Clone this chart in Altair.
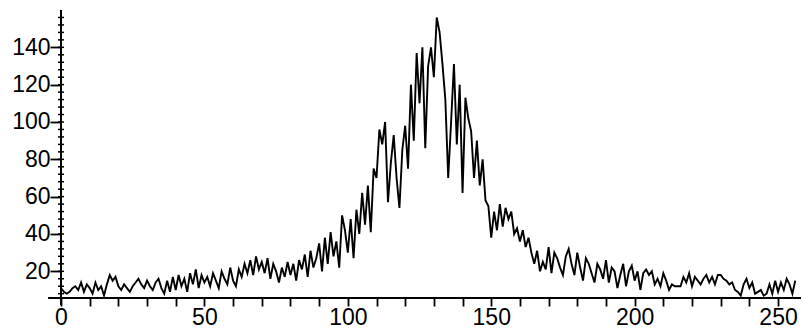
import altair as alt
import pandas as pd

# counts per channel (channel 0 .. 256)
counts = [
    11, 9, 8, 9, 11, 12, 10, 14, 9, 13,
    11, 8, 14, 10, 12, 7, 13, 18, 15, 17,
    12, 10, 13, 11, 9, 12, 14, 16, 13, 11,
    15, 12, 10, 14, 16, 11, 8, 15, 9, 17,
    10, 18, 12, 16, 9, 19, 13, 21, 11, 18,
    14, 17, 12, 19, 15, 11, 20, 16, 13, 22,
    15, 12, 21, 17, 24, 19, 26, 18, 28, 21,
    25, 19, 27, 16, 24, 20, 14, 22, 17, 25,
    18, 24, 15, 26, 21, 29, 17, 31, 22, 27,
    35, 20, 38, 24, 41, 28, 36, 22, 50, 42,
    30, 48, 27, 53, 40, 62, 45, 66, 41, 75,
    70, 96, 88, 100, 57, 78, 93, 70, 54, 85,
    98, 75, 120, 90, 137, 110, 140, 86, 130, 140,
    124, 156, 148, 131, 112, 70, 100, 131, 88, 120,
    62, 113, 102, 95, 70, 90, 66, 80, 58, 55,
    38, 52, 42, 56, 44, 54, 48, 52, 40, 43,
    36, 42, 33, 38, 30, 24, 31, 20, 25, 21,
    33, 19, 30, 27, 22, 18, 28, 32, 24, 18,
    30, 22, 15, 27, 24, 19, 14, 24, 21, 16,
    26, 14, 22, 20, 11, 18, 24, 12, 20, 23,
    15, 20, 10, 19, 21, 18, 20, 13, 16, 12,
    19, 15, 10, 13, 12, 12, 12, 17, 14, 19,
    12, 17, 15, 13, 16, 18, 14, 17, 13, 18,
    18, 16, 15, 13, 14, 10, 9, 7, 13, 16,
    11, 14, 8, 9, 10, 7, 8, 13, 8, 15,
    9, 14, 10, 16, 13, 8, 15,
]
channels = list(range(len(counts)))

x_ticks = list(range(0, 260, 10))
y_major = [20, 40, 60, 80, 100, 120, 140]
y_minor = list(range(8, 160, 4))
x_domain = [0, 258]
y_domain = [5.7, 160]

FONT = "Liberation Sans, Arial, sans-serif"

df = pd.DataFrame({"x": channels, "y": counts})
minor_df = pd.DataFrame({"x": [0] * len(y_minor), "y": y_minor})
xaxis_df = pd.DataFrame({"x": [-4.5], "x2": [x_domain[1]], "y": [y_domain[0]]})
yaxis_df = pd.DataFrame({"x": [0], "y": [2.0], "y2": [y_domain[1]]})

xs = alt.Scale(domain=x_domain, nice=False, zero=False)
ys = alt.Scale(domain=y_domain, nice=False, zero=False)

x_axis = alt.Axis(values=x_ticks, labelExpr="datum.value % 50 == 0 ? datum.label : ''",
                  tickSize=8, tickWidth=1.8, tickColor="black", domain=False, grid=False,
                  labelFont=FONT, labelFontSize=23, labelColor="black",
                  labelPadding=0, labelFlush=False, labelOverlap=False)
y_axis = alt.Axis(values=y_major, tickSize=11, tickWidth=1.8, tickColor="black",
                  domain=False, grid=False, labelFont=FONT, labelFontSize=23,
                  labelColor="black", labelPadding=0, labelFlush=False,
                  labelOverlap=False)

X = lambda f: alt.X(f, scale=xs, title=None, axis=x_axis)
Y = lambda f: alt.Y(f, scale=ys, title=None, axis=y_axis)

line = alt.Chart(df).mark_line(color="black", strokeWidth=1.9, clip=False).encode(
    x=X("x:Q"), y=Y("y:Q"),
)

minor = alt.Chart(minor_df).mark_rule(color="black", strokeWidth=1.5, clip=False).encode(
    y=Y("y:Q"),
    x=alt.value(-3),
    x2=alt.value(3),
)

xaxis = alt.Chart(xaxis_df).mark_rule(color="black", strokeWidth=2, clip=False).encode(
    x=X("x:Q"), x2="x2:Q", y=Y("y:Q")
)
yaxis = alt.Chart(yaxis_df).mark_rule(color="black", strokeWidth=2, clip=False).encode(
    x=X("x:Q"), y=Y("y:Q"), y2="y2:Q"
)

chart = alt.layer(line, minor, xaxis, yaxis).properties(
    width=740, height=288,
    autosize=alt.AutoSizeParams(type="none"),
    padding={"left": 61, "top": 10, "right": 2, "bottom": 34},
    background="white",
).configure_view(stroke=None)

chart.save("out.html", embed_options={"renderer": "svg", "actions": False})
